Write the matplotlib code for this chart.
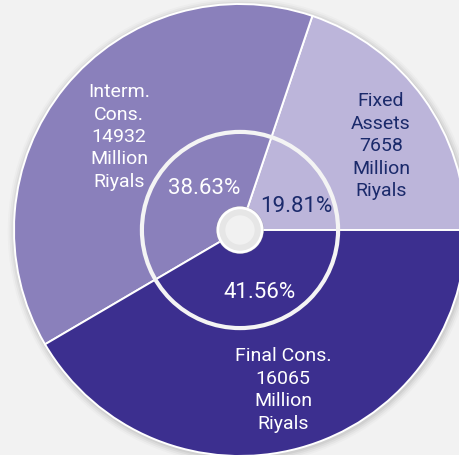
import matplotlib
matplotlib.use('Agg')
import matplotlib.pyplot as plt
from matplotlib.patches import Circle

# data
names = ['Fixed\nAssets', 'Interm.\nCons.', 'Final Cons.']
values = [7658, 14932, 16065]
colors = ['#bcb5da', '#8a80bb', '#3c2f8f']
text_colors = ['#1b2a6b', 'white', 'white']

plt.rcParams['font.family'] = ['Roboto', 'DejaVu Sans']

W, H = 460, 456
fig = plt.figure(figsize=(W / 100, H / 100), dpi=100, facecolor='#f2f2f2')
ax = fig.add_axes([0, 0, 1, 1])
ax.set_facecolor('#f2f2f2')

# pie centre at pixel (240, 231), radius 226 px
R = 226.0
cx, cy = 240.0, 231.0

# soft shadow behind the disc
for k, a in enumerate([0.05, 0.04, 0.03, 0.02]):
    ax.add_patch(Circle((0.004, -0.006), 1.0 + 0.008 * (k + 1), color='black',
                        alpha=a, lw=0, zorder=0))

labels = [f'{n}\n{v}\nMillion\nRiyals' for n, v in zip(names, values)]
wedges, texts, autotexts = ax.pie(
    values, colors=colors, startangle=0, counterclock=True, radius=1.0,
    labels=labels, labeldistance=0.72, autopct='%.2f%%', pctdistance=0.27,
    wedgeprops=dict(edgecolor='white', linewidth=1.4),
    textprops=dict(fontsize=14, linespacing=1.32))
for t, c in zip(texts, text_colors):
    t.set_color(c)
    t.set_ha('center')
    t.set_va('center')
for t, c in zip(autotexts, text_colors):
    t.set_color(c)
    t.set_fontsize(16)

# place labels as in the original
texts[0].set_position((0.624, 0.376))
texts[1].set_position((-0.535, 0.416))
texts[2].set_position((0.190, -0.704))
autotexts[0].set_position((0.25, 0.11))
autotexts[1].set_position((-0.16, 0.19))
autotexts[2].set_position((0.085, -0.27))

ax.set_xlim(-cx / R, (W - cx) / R)
ax.set_ylim(-(H - cy) / R, cy / R)
ax.set_aspect('equal')
ax.axis('off')

# inner ring
ax.add_patch(Circle((0, 0), 0.434, fill=False, edgecolor='#f4f4f4', lw=3, zorder=5))

# centre hole
ax.add_patch(Circle((0, 0), 0.106, color='#9a9a9a', alpha=0.5, lw=0, zorder=6))
ax.add_patch(Circle((0, 0), 0.098, facecolor='#e6e6e6', edgecolor='white', lw=2, zorder=7))
ax.add_patch(Circle((0, 0), 0.065, facecolor='#f1f1f1', lw=0, zorder=8))

fig.savefig('out.png', dpi=100, facecolor=fig.get_facecolor())
